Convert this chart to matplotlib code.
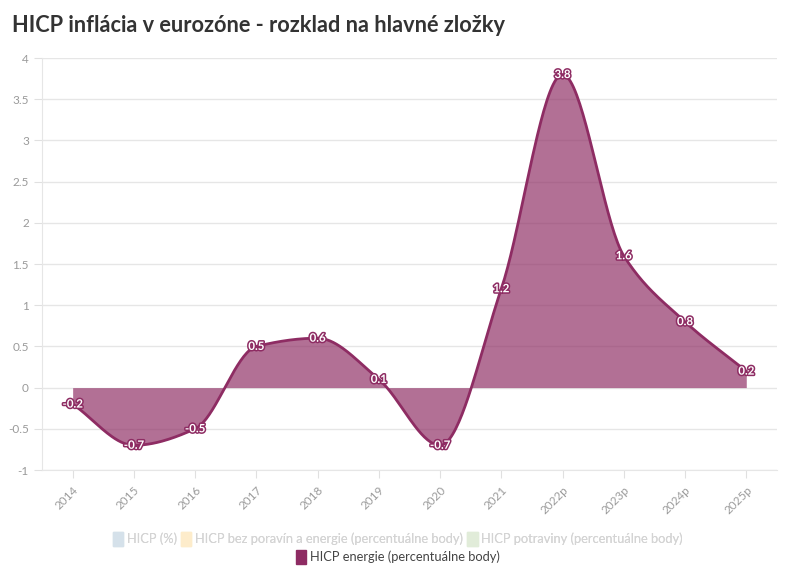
import numpy as np
import matplotlib.pyplot as plt
import matplotlib.patheffects as pe

plt.rcParams['font.family'] = ['Lato', 'DejaVu Sans']

years = ['2014', '2015', '2016', '2017', '2018', '2019', '2020', '2021',
         '2022p', '2023p', '2024p', '2025p']
energy = [-0.2, -0.7, -0.5, 0.5, 0.6, 0.1, -0.7, 1.2, 3.8, 1.6, 0.8, 0.2]

legend_names = ['HICP (%)', 'HICP bez poravín a energie (percentuálne body)',
                'HICP potraviny (percentuálne body)',
                'HICP energie (percentuálne body)']
legend_colors = ['#d5e1ea', '#fdeccb', '#e1ecd9', '#8e2c63']

LINE = '#8e2c63'


def monotone(x, y, n=40):
    # monotone cubic spline (Fritsch-Carlson), like d3 curveMonotoneX
    x = np.asarray(x, float)
    y = np.asarray(y, float)
    h = np.diff(x)
    d = np.diff(y) / h
    m = np.zeros_like(y)
    m[0] = d[0]
    m[-1] = d[-1]
    for i in range(1, len(y) - 1):
        if d[i - 1] * d[i] <= 0:
            m[i] = 0
        else:
            m[i] = (3 * (h[i - 1] + h[i])) / ((2 * h[i] + h[i - 1]) / d[i - 1] + (h[i] + 2 * h[i - 1]) / d[i])
    xs, ys = [], []
    for i in range(len(y) - 1):
        t = np.linspace(0, 1, n)
        h00 = 2 * t**3 - 3 * t**2 + 1
        h10 = t**3 - 2 * t**2 + t
        h01 = -2 * t**3 + 3 * t**2
        h11 = t**3 - t**2
        xs.append(x[i] + t * h[i])
        ys.append(h00 * y[i] + h10 * h[i] * m[i] + h01 * y[i + 1] + h11 * h[i] * m[i + 1])
    return np.concatenate(xs), np.concatenate(ys)


fig = plt.figure(figsize=(7.96, 5.75), dpi=100)
ax = fig.add_axes([0.0528, 0.1826, 0.9232, 0.7164])

x = np.arange(len(years))
sx, sy = monotone(x, energy)

ax.fill_between(sx, sy, 0, color=LINE, alpha=0.68, linewidth=0, zorder=2)
ax.plot(sx, sy, color=LINE, linewidth=2, zorder=3)

for xi, v in zip(x, energy):
    ax.text(xi, v, f'{v:g}', ha='center', va='center', fontsize=8.3,
            fontweight='bold', color='white', zorder=5,
            path_effects=[pe.withStroke(linewidth=2.2, foreground=LINE)])

ax.set_xlim(-0.5, 11.5)
ax.set_ylim(-1, 4)
ax.set_yticks(np.arange(-1, 4.01, 0.5))
ax.set_yticklabels([f'{v:g}' for v in np.arange(-1, 4.01, 0.5)])
ax.set_xticks(x)
ax.set_xticklabels(years, rotation=45, ha='right', rotation_mode='anchor')

ax.grid(axis='y', color='#e6e6e6', linewidth=1)
ax.set_axisbelow(True)
for s in ['top', 'right']:
    ax.spines[s].set_visible(False)
ax.spines['left'].set_color('#e6e6e6')
ax.spines['bottom'].set_color('#e6e6e6')
ax.tick_params(axis='both', colors='#e0e0e0', labelcolor='#9a9a9a',
               labelsize=8.5, length=6)
ax.tick_params(axis='x', pad=4)

fig.text(0.015, 0.955, 'HICP inflácia v eurozóne - rozklad na hlavné zložky',
         fontsize=15.7, fontweight='bold', color='#333333', va='center')

# legend, two centred rows
h1 = [plt.Rectangle((0, 0), 1, 1, color=c) for c in legend_colors[:3]]
leg1 = fig.legend(h1, legend_names[:3], loc='center', bbox_to_anchor=(0.5, 0.063),
                  ncol=3, frameon=False, fontsize=9.3, handlelength=0.8,
                  handleheight=1.3, handletextpad=0.3, columnspacing=0.3)
for t in leg1.get_texts():
    t.set_color('#d4d4d4')
fig.add_artist(leg1)
h2 = [plt.Rectangle((0, 0), 1, 1, color=legend_colors[3])]
leg2 = fig.legend(h2, legend_names[3:], loc='center', bbox_to_anchor=(0.5, 0.032),
                  frameon=False, fontsize=9.3, handlelength=0.8,
                  handleheight=1.3, handletextpad=0.3)
for t in leg2.get_texts():
    t.set_color('#444444')

fig.savefig('out.png', dpi=100)
